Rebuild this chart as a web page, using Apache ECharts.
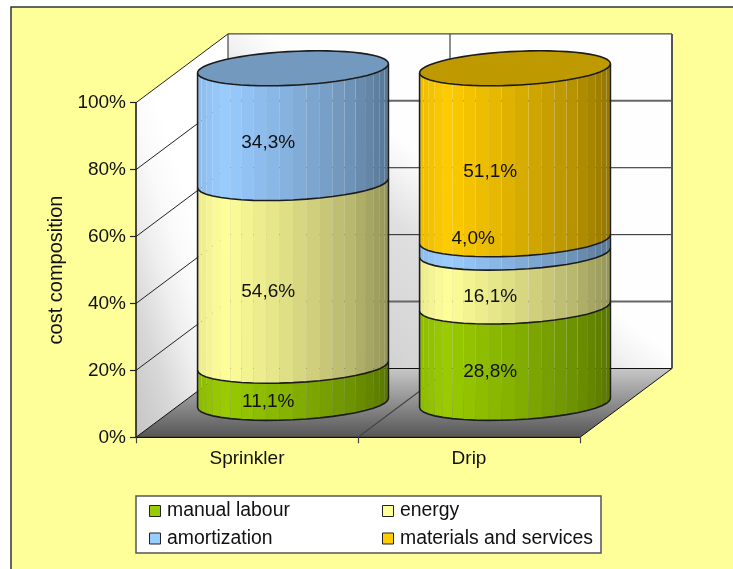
<!DOCTYPE html>
<html>
<head>
<meta charset="utf-8">
<title>cost composition</title>
<script src="https://cdn.jsdelivr.net/npm/echarts@6/dist/echarts.min.js"></script>
<style>
  html, body { margin: 0; padding: 0; background: #fff; overflow: hidden; }
  #main { width: 733px; height: 569px; }
</style>
</head>
<body>
<div id="main"></div>
<script>
const categories = ['Sprinkler', 'Drip'];
const yTicks = [0, 20, 40, 60, 80, 100];
const manualLabour = [11.1, 28.8];
const energy = [54.6, 16.1];
const amortization = [34.3, 4.0];
const materials = [0, 51.1];

const segmentNames = ['manual labour', 'energy', 'amortization', 'materials and services'];
const segmentValues = [manualLabour, energy, amortization, materials];
const segmentColors = ['#99CC00', '#FFFF99', '#99CCFF', '#FFCC00'];

const FONT = '19px "Liberation Sans", Arial, sans-serif';
const FONT_FAMILY = '"Liberation Sans", Arial, sans-serif';
const INK = '#111';

// depth of the fake 3d box, in pixels
const DX = 92;
const DY = 68.8;
// cylinder ellipse
const FACETS = 22;
const RX_BAND = 0.415;
const ELL_A = 24.8;
const ELL_B = 17.5;
const T0 = Math.atan2(ELL_A, 92.2);

function shadeOf(u) {
  const stops = [[0, 0.92], [0.14, 1], [0.5, 0.86], [0.8, 0.72], [1, 0.58]];
  for (let i = 1; i < stops.length; i++) {
    if (u <= stops[i][0]) {
      const k = (u - stops[i - 1][0]) / (stops[i][0] - stops[i - 1][0]);
      return stops[i - 1][1] + k * (stops[i][1] - stops[i - 1][1]);
    }
  }
  return 0.58;
}

function tint(hex, k) {
  const n = parseInt(hex.slice(1), 16);
  const r = Math.round(((n >> 16) & 255) * k);
  const g = Math.round(((n >> 8) & 255) * k);
  const b = Math.round((n & 255) * k);
  return 'rgb(' + r + ',' + g + ',' + b + ')';
}

function ellipsePoint(cx, cy, rx, t) {
  return [cx + rx * Math.cos(t) + ELL_A * Math.sin(t), cy - ELL_B * Math.sin(t)];
}

function frontArc(cx, cy, rx, n) {
  const pts = [];
  for (let i = 0; i <= n; i++) {
    pts.push(ellipsePoint(cx, cy, rx, Math.PI + T0 + (Math.PI * i) / n));
  }
  return pts;
}

// back wall, left wall, floor and grid lines
function renderBox(params, api) {
  const grid = params.coordSys;
  const x0 = grid.x;
  const x1 = grid.x + grid.width;
  const yBottom = api.coord([0, 0])[1];
  const yTop = api.coord([0, 100])[1];
  const children = [];

  children.push({
    type: 'polygon',
    shape: { points: [[x0 + DX, yTop - DY], [x1 + DX, yTop - DY], [x1 + DX, yBottom - DY], [x0 + DX, yBottom - DY]] },
    style: {
      fill: new echarts.graphic.LinearGradient(x0 + DX, yBottom - DY, x0 + DX + 179, yBottom - DY - 224, [
        { offset: 0, color: '#C0C0C0' },
        { offset: 0.418, color: '#D5D5D5' },
        { offset: 0.58, color: '#DADADA' },
        { offset: 0.76, color: '#DFDFDF' },
        { offset: 0.91, color: '#F4F4F4' },
        { offset: 1, color: '#FEFEFE' }
      ], true)
    }
  });
  // steep gradient on the left wall, grey low on the axis side
  children.push({
    type: 'polygon',
    shape: { points: [[x0, yTop], [x0 + DX, yTop - DY], [x0 + DX, yBottom - DY], [x0, yBottom]] },
    style: {
      fill: new echarts.graphic.LinearGradient(x0, yBottom, x0 + 120, yBottom - 40, [
        { offset: 0, color: '#C4C4C4' },
        { offset: 0.34, color: '#D8D8D8' },
        { offset: 0.59, color: '#EEEEEE' },
        { offset: 0.79, color: '#FAFAFA' },
        { offset: 1, color: '#FFFFFF' }
      ], true)
    }
  });
  children.push({
    type: 'polygon',
    shape: { points: [[x0, yBottom], [x1, yBottom], [x1 + DX, yBottom - DY], [x0 + DX, yBottom - DY]] },
    style: {
      fill: new echarts.graphic.LinearGradient(0, 0, 0, 1, [
        { offset: 0, color: '#C8C8C8' },
        { offset: 1, color: '#555555' }
      ]),
      stroke: '#111',
      lineWidth: 1
    }
  });

  yTicks.forEach(function (v) {
    if (v === 0) {
      return;
    }
    const y = api.coord([0, v])[1];
    const heavy = v === 20 || v === 80;
    children.push({
      type: 'line',
      shape: { x1: x0, y1: y, x2: x0 + DX, y2: y - DY },
      style: { stroke: '#222', lineWidth: 1 }
    });
    children.push({
      type: 'line',
      shape: { x1: x0 + DX, y1: y - DY, x2: x1 + DX, y2: y - DY },
      style: { stroke: heavy ? '#666' : '#222', lineWidth: heavy ? 2 : 1 }
    });
  });

  // divider between the two categories, on the floor and up the back wall
  const xMid = x0 + grid.width / 2;
  children.push({
    type: 'polyline',
    shape: { points: [[xMid, yBottom], [xMid + DX, yBottom - DY], [xMid + DX, yTop - DY]] },
    style: { fill: 'none', stroke: '#444', lineWidth: 1.2 }
  });
  // back wall verticals
  children.push({
    type: 'line',
    shape: { x1: x0 + DX, y1: yTop - DY, x2: x0 + DX, y2: yBottom - DY },
    style: { stroke: '#222', lineWidth: 1 }
  });
  children.push({
    type: 'line',
    shape: { x1: x1 + DX, y1: yTop - DY, x2: x1 + DX, y2: yBottom - DY },
    style: { stroke: '#555', lineWidth: 2 }
  });

  return { type: 'group', children: children };
}

// one stacked slice of a cylinder
function renderSegment(seriesIndex, params, api) {
  const catIndex = api.value(0);
  const base = api.value(1);
  const top = api.value(2);
  if (!(top - base > 0)) {
    return null;
  }
  const color = segmentColors[seriesIndex];
  const bandWidth = api.size([1, 0])[0];
  const rx = bandWidth * RX_BAND;
  const front = api.coord([catIndex, base]);
  const cx = front[0] + DX / 2;
  const yLow = front[1] - DY / 2;
  const yHigh = api.coord([catIndex, top])[1] - DY / 2;
  const children = [];

  const lowArc = frontArc(cx, yLow, rx, FACETS);
  const highArc = frontArc(cx, yHigh, rx, FACETS);
  const left = lowArc[0][0];
  const width = lowArc[FACETS][0] - left;
  for (let i = 0; i < FACETS; i++) {
    const u = ((lowArc[i][0] + lowArc[i + 1][0]) / 2 - left) / width;
    children.push({
      type: 'polygon',
      shape: { points: [highArc[i], highArc[i + 1], lowArc[i + 1], lowArc[i]] },
      style: { fill: tint(color, shadeOf(u)) }
    });
  }

  // outline: up the left side, along the bottom, up the right side
  const outline = [highArc[0]].concat(lowArc, [highArc[FACETS]]);
  children.push({
    type: 'polyline',
    shape: { points: outline },
    style: { fill: 'none', stroke: '#1c1c1c', lineWidth: 1.6 }
  });

  // the highest slice of a stack carries the lid
  let isTop = true;
  for (let s = seriesIndex + 1; s < segmentValues.length; s++) {
    if (segmentValues[s][catIndex] > 0) {
      isTop = false;
    }
  }
  if (isTop) {
    const lid = [];
    for (let i = 0; i < 60; i++) {
      lid.push(ellipsePoint(cx, yHigh, rx, (i / 60) * Math.PI * 2));
    }
    children.push({
      type: 'polygon',
      shape: { points: lid },
      style: { fill: tint(color, 0.75), stroke: '#1c1c1c', lineWidth: 1.6 }
    });
  }

  return { type: 'group', children: children };
}

// labels sit on the front of the cylinder, the 4,0% one was moved up by hand
function renderLabel(params, api) {
  const catIndex = api.value(0);
  const s = api.value(1);
  const base = api.value(2);
  const top = api.value(3);
  if (!(top - base > 0)) {
    return null;
  }
  const nudged = s === 2 && catIndex === 1;
  const mid = api.coord([catIndex, (base + top) / 2]);
  return {
    type: 'text',
    style: {
      x: mid[0] + DX / 2 - ELL_A + (nudged ? -17 : 0),
      y: mid[1] - DY / 2 + ELL_B + (nudged ? -25 : 0),
      text: (top - base).toFixed(1).replace('.', ',') + '%',
      font: FONT,
      fill: INK,
      align: 'center',
      verticalAlign: 'middle'
    }
  };
}

function stackBase(s, i) {
  let base = 0;
  for (let k = 0; k < s; k++) {
    base += segmentValues[k][i];
  }
  return base;
}

const stackSeries = segmentNames.map(function (name, s) {
  return {
    name: name,
    type: 'custom',
    z: 3 + s,
    clip: false,
    itemStyle: { color: segmentColors[s] },
    encode: { x: 0, y: [1, 2] },
    renderItem: function (params, api) {
      return renderSegment(s, params, api);
    },
    data: categories.map(function (c, i) {
      return [i, stackBase(s, i), stackBase(s, i) + segmentValues[s][i]];
    })
  };
});

const labelRows = [];
segmentNames.forEach(function (name, s) {
  categories.forEach(function (c, i) {
    labelRows.push([i, s, stackBase(s, i), stackBase(s, i) + segmentValues[s][i]]);
  });
});

const legendBase = {
  orient: 'vertical',
  itemWidth: 11,
  itemHeight: 11,
  itemGap: 7.5,
  icon: 'rect',
  top: 501,
  padding: 0,
  z: 20,
  itemStyle: { borderColor: '#222', borderWidth: 1 },
  textStyle: { fontFamily: FONT_FAMILY, fontSize: 19.4, color: INK, lineHeight: 20, padding: [0, 0, 0, 1.5] }
};

const option = {
  animation: false,
  backgroundColor: '#fff',
  textStyle: { fontFamily: FONT_FAMILY },
  grid: { left: 136, top: 102.7, width: 444, height: 334.6 },
  xAxis: {
    type: 'category',
    data: categories,
    z: 10,
    axisLine: { lineStyle: { color: '#111', width: 1.2 } },
    axisTick: { show: true, alignWithLabel: false, length: 6, lineStyle: { color: '#444', width: 1.2 } },
    axisLabel: { fontSize: 19, color: INK, margin: 12 }
  },
  yAxis: {
    type: 'value',
    min: 0,
    max: 100,
    interval: 20,
    z: 10,
    name: 'cost composition',
    nameLocation: 'middle',
    nameGap: 62,
    nameRotate: 90,
    nameTextStyle: { fontSize: 20, color: INK },
    splitLine: { show: false },
    axisLine: { show: true, lineStyle: { color: '#111', width: 1.5 } },
    axisTick: { show: true, length: 6, lineStyle: { color: '#222', width: 1.2 } },
    axisLabel: { fontSize: 19, color: INK, margin: 10, formatter: '{value}%' }
  },
  legend: [
    Object.assign({}, legendBase, { left: 149, data: [segmentNames[0], segmentNames[2]] }),
    Object.assign({}, legendBase, { left: 382, data: [segmentNames[1], segmentNames[3]] })
  ],
  graphic: {
    elements: [
      {
        type: 'rect',
        z: -10,
        silent: true,
        shape: { x: 11, y: 7, width: 740, height: 580 },
        style: { fill: '#FFFF99', stroke: '#333', lineWidth: 1.5 }
      },
      {
        type: 'rect',
        z: 15,
        silent: true,
        shape: { x: 136, y: 496, width: 465, height: 57 },
        style: { fill: '#fff', stroke: '#555', lineWidth: 1.5 }
      }
    ]
  },
  series: [
    {
      name: 'box',
      type: 'custom',
      z: 2,
      clip: false,
      silent: true,
      encode: { x: 0, y: 1 },
      renderItem: renderBox,
      data: [[0, 0]]
    }
  ].concat(stackSeries, [
    {
      name: 'labels',
      type: 'custom',
      z: 12,
      clip: false,
      silent: true,
      encode: { x: 0, y: [2, 3] },
      renderItem: renderLabel,
      data: labelRows
    }
  ])
};

const chart = echarts.init(document.getElementById('main'), null, { renderer: 'canvas' });
chart.setOption(option);
</script>
</body>
</html>
